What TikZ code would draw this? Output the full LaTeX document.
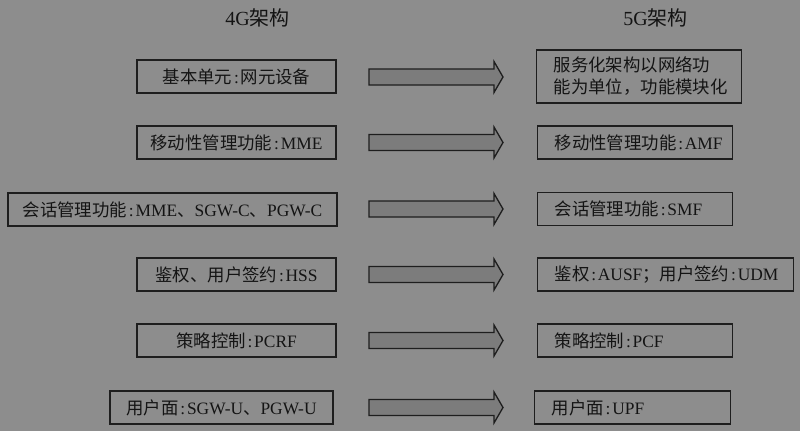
\documentclass[tikz,border=0pt]{standalone}
\usepackage{fontspec}
\setmainfont{Noto Sans CJK SC}
\newfontfamily\lat{Liberation Serif}
\newcommand\cc{{\lat\kern1.8pt:\kern1.8pt}}
\definecolor{bggray}{RGB}{141,141,141}
\definecolor{arrfill}{RGB}{124,124,124}
\definecolor{edge}{RGB}{30,30,30}
\definecolor{ink}{RGB}{20,20,20}
\tikzset{
  lbox/.style={draw=edge, line width=1.3pt, inner sep=0pt, minimum height=33pt, text=ink,
    font=\fontsize{17.4pt}{22pt}\selectfont},
  rbox/.style={lbox, anchor=west, inner xsep=17pt, align=left},
  title/.style={text=ink, font=\fontsize{20pt}{24pt}\selectfont},
  blockarrow/.pic={\draw[draw=edge, fill=arrfill, line width=1.3pt, line join=miter]
     (0,-8) -- (125,-8) -- (125,-15.5) -- (134,0) -- (125,15.5) -- (125,8) -- (0,8) -- cycle;}
}
\begin{document}
\begin{tikzpicture}[x=1pt,y=-1pt]
\fill[bggray] (0,0) rectangle (800,431);
\useasboundingbox (0,0) rectangle (800,431);

\node[title] (t4) at (257.5,18) {{\lat 4G}架构};
\node[title] (t5) at (655.5,18) {{\lat 5G}架构};

% left column
\node[lbox, minimum width=199pt] (l1) at (236.5,76.5) {基本单元\cc 网元设备};
\node[lbox, minimum width=199pt] (l2) at (236.5,142.5) {移动性管理功能\cc{\lat MME}};
\node[lbox, minimum width=329pt] (l3) at (172.5,209.5) {会话管理功能\cc{\lat MME}、{\lat SGW-C}、{\lat PGW-C}};
\node[lbox, minimum width=199pt] (l4) at (236.5,274.5) {鉴权、用户签约\cc{\lat HSS}};
\node[lbox, minimum width=199pt] (l5) at (236.5,340.5) {策略控制\cc{\lat PCRF}};
\node[lbox, minimum width=223pt] (l6) at (221.5,407.5) {用户面\cc{\lat SGW-U}、{\lat PGW-U}};

% right column
\node[rbox, text width=171pt, minimum height=53pt, inner xsep=17pt] (r1) at (536,76.5) {服务化架构以网络功\\能为单位，功能模块化};
\node[rbox, text width=161pt] (r2) at (537,142.5) {移动性管理功能\cc{\lat AMF}};
\node[rbox, text width=161pt] (r3) at (537,209) {会话管理功能\cc{\lat SMF}};
\node[rbox, text width=222pt] (r4) at (537,274.5) {鉴权\cc{\lat AUSF}；用户签约\cc{\lat UDM}};
\node[rbox, text width=161pt] (r5) at (537,340.5) {策略控制\cc{\lat PCF}};
\node[rbox, text width=162pt] (r6) at (534,407.5) {用户面\cc{\lat UPF}};

% block arrows
\pic (a1) at (369,77) {blockarrow};
\pic (a2) at (369,142.5) {blockarrow};
\pic (a3) at (369,209) {blockarrow};
\pic (a4) at (369,274.5) {blockarrow};
\pic (a5) at (369,340.5) {blockarrow};
\pic (a6) at (369,407.5) {blockarrow};
\end{tikzpicture}
\end{document}
